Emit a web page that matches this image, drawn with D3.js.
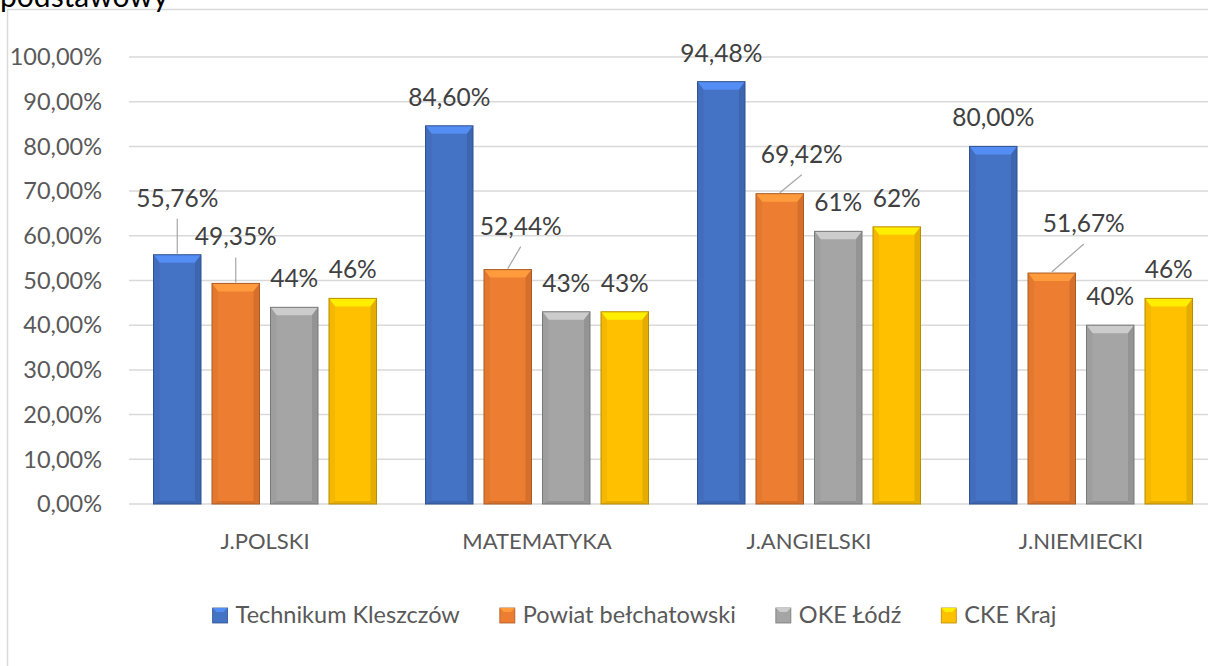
<!DOCTYPE html>
<html>
<head>
<meta charset="utf-8">
<script src="https://cdn.jsdelivr.net/npm/d3@7"></script>
<style>
  html, body { margin: 0; padding: 0; background: #fff; overflow: hidden; }
  svg { display: block; font-family: Lato, "Open Sans", sans-serif; }
</style>
</head>
<body>
<svg id="chart"></svg>
<script>
// data
const categories = ["J.POLSKI", "MATEMATYKA", "J.ANGIELSKI", "J.NIEMIECKI"];
const seriesNames = ["Technikum Kleszczów", "Powiat bełchatowski", "OKE Łódź", "CKE Kraj"];
const technikum = [55.76, 84.60, 94.48, 80.00];
const powiat = [49.35, 52.44, 69.42, 51.67];
const okeLodz = [44, 43, 61, 40];
const ckeKraj = [46, 43, 62, 46];
const valueLabels = [
  ["55,76%", "84,60%", "94,48%", "80,00%"],
  ["49,35%", "52,44%", "69,42%", "51,67%"],
  ["44%", "43%", "61%", "40%"],
  ["46%", "43%", "62%", "46%"]
];
const yTicks = [0, 10, 20, 30, 40, 50, 60, 70, 80, 90, 100];

// layout
const W = 1208, H = 666;
const plot = {left: 129, right: 1217, top: 57, bottom: 504};
const colors = ["#4472C4", "#ED7D31", "#A5A5A5", "#FFC000"];
const fontSize = 23.5;

// labels that were dragged away from the bar in the original (series, category, dx, dy)
const movedLabels = [
  [0, 0, 0, -28],
  [1, 0, 0, -18],
  [1, 1, 13, -15],
  [1, 2, 22, -11],
  [1, 3, 32, -21]
];

const allSeries = [technikum, powiat, okeLodz, ckeKraj];
const data = [];
categories.forEach((c, ci) => {
  allSeries.forEach((s, si) => {
    data.push({cat: c, ci: ci, si: si, value: s[ci], label: valueLabels[si][ci]});
  });
});

const svg = d3.select("#chart").attr("width", W).attr("height", H);

// chart frame
svg.append("rect")
    .attr("x", 7.5).attr("y", 9.5)
    .attr("width", 1400).attr("height", 800)
    .attr("fill", "#fff")
    .attr("stroke", "#D9D9D9")
    .attr("stroke-width", 1.5);

// title, cut off by the top edge as in the original
svg.append("text")
    .attr("x", 0).attr("y", 7)
    .attr("font-size", 30)
    .attr("fill", "#000")
    .text("podstawowy");

const x = d3.scaleBand()
    .domain(categories)
    .range([plot.left, plot.right]);

const xs = d3.scaleBand()
    .domain(d3.range(4))
    .range([0, x.bandwidth()])
    .paddingInner(0.188)
    .paddingOuter(0.419);

const y = d3.scaleLinear()
    .domain([0, 100])
    .range([plot.bottom, plot.top]);

// gridlines
svg.append("g")
  .selectAll("line")
  .data(yTicks)
  .join("line")
    .attr("x1", plot.left).attr("x2", W)
    .attr("y1", d => y(d)).attr("y2", d => y(d))
    .attr("stroke", "#D9D9D9")
    .attr("stroke-width", 1.5);

// y axis labels
const fmt = d3.format(".2f");
svg.append("g")
  .selectAll("text")
  .data(yTicks)
  .join("text")
    .attr("x", 102)
    .attr("y", d => y(d))
    .attr("dy", "0.35em")
    .attr("text-anchor", "end")
    .attr("font-size", fontSize)
    .attr("fill", "#595959")
    .text(d => fmt(d).replace(".", ",") + "%");

// category labels
svg.append("g")
  .selectAll("text")
  .data(categories)
  .join("text")
    .attr("x", d => x(d) + x.bandwidth() / 2)
    .attr("y", 549)
    .attr("text-anchor", "middle")
    .attr("font-size", 22)
    .attr("fill", "#595959")
    .text(d => d);

// bars with bevel look
function barGeom(d) {
  const bx = x(d.cat) + xs(d.si);
  const bw = xs.bandwidth();
  const by = y(d.value);
  const bh = y(0) - by;
  return {bx, bw, by, bh};
}

const bars = svg.append("g")
  .selectAll("g")
  .data(data)
  .join("g");

bars.append("rect")
    .attr("x", d => barGeom(d).bx)
    .attr("y", d => barGeom(d).by)
    .attr("width", xs.bandwidth())
    .attr("height", d => barGeom(d).bh)
    .attr("fill", d => colors[d.si]);

const b = 6;
// top bevel
bars.append("polygon")
    .attr("points", d => {
      const g = barGeom(d);
      return [[g.bx, g.by], [g.bx + g.bw, g.by], [g.bx + g.bw - b, g.by + b + 2], [g.bx + b, g.by + b + 2]].join(" ");
    })
    .attr("fill", d => d3.color(colors[d.si]).brighter(0.6));
// left bevel
bars.append("polygon")
    .attr("points", d => {
      const g = barGeom(d);
      return [[g.bx, g.by], [g.bx + b, g.by + b + 2], [g.bx + b, g.by + g.bh - 3], [g.bx, g.by + g.bh]].join(" ");
    })
    .attr("fill", d => d3.color(colors[d.si]).darker(0.12));
// right bevel
bars.append("polygon")
    .attr("points", d => {
      const g = barGeom(d);
      return [[g.bx + g.bw, g.by], [g.bx + g.bw - b, g.by + b + 2], [g.bx + g.bw - b, g.by + g.bh - 3], [g.bx + g.bw, g.by + g.bh]].join(" ");
    })
    .attr("fill", d => d3.color(colors[d.si]).darker(0.3));
// bottom bevel
bars.append("polygon")
    .attr("points", d => {
      const g = barGeom(d);
      return [[g.bx, g.by + g.bh], [g.bx + b, g.by + g.bh - 3], [g.bx + g.bw - b, g.by + g.bh - 3], [g.bx + g.bw, g.by + g.bh]].join(" ");
    })
    .attr("fill", d => d3.color(colors[d.si]).darker(0.3));
// outline
bars.append("rect")
    .attr("x", d => barGeom(d).bx)
    .attr("y", d => barGeom(d).by)
    .attr("width", xs.bandwidth())
    .attr("height", d => barGeom(d).bh)
    .attr("fill", "none")
    .attr("stroke", d => d3.color(colors[d.si]).darker(0.9))
    .attr("stroke-width", 1);

// value labels
function labelPos(d) {
  const g = barGeom(d);
  const m = movedLabels.find(o => o[0] === d.si && o[1] === d.ci);
  const cx = g.bx + g.bw / 2;
  const base = g.by - 20;
  return m ? {x: cx + m[2], y: base + m[3], moved: true, cx: cx, top: g.by}
           : {x: cx, y: base, moved: false};
}

const labels = svg.append("g");
labels.selectAll("line")
  .data(data.filter(d => labelPos(d).moved))
  .join("line")
    .attr("x1", d => labelPos(d).x)
    .attr("y1", d => labelPos(d).y + 12)
    .attr("x2", d => labelPos(d).cx)
    .attr("y2", d => labelPos(d).top - 1)
    .attr("stroke", "#A6A6A6")
    .attr("stroke-width", 1.2);

labels.selectAll("text")
  .data(data)
  .join("text")
    .attr("x", d => labelPos(d).x)
    .attr("y", d => labelPos(d).y)
    .attr("text-anchor", "middle")
    .attr("font-size", 24.5)
    .attr("fill", "#404040")
    .text(d => d.label);

// legend
const legend = svg.append("g");
const items = legend.selectAll("g")
  .data(seriesNames)
  .join("g");
items.append("rect")
    .attr("y", 608)
    .attr("width", 15).attr("height", 15)
    .attr("fill", (d, i) => colors[i])
    .attr("stroke", (d, i) => d3.color(colors[i]).darker(0.9))
    .attr("stroke-width", 0.8);
items.append("polygon")
    .attr("points", "0,608 15,608 11,612 4,612")
    .attr("fill", (d, i) => d3.color(colors[i]).brighter(0.6));
items.append("text")
    .attr("x", 23)
    .attr("y", 623)
    .attr("font-size", 23.5)
    .attr("fill", "#595959")
    .text(d => d);

let pos = 0;
const offsets = [];
items.each(function() {
  offsets.push(pos);
  const tw = d3.select(this).select("text").node().getComputedTextLength();
  pos += 23 + tw + 40;
});
const total = pos - 40;
const startX = 634.5 - total / 2;
items.attr("transform", (d, i) => "translate(" + (startX + offsets[i]) + ",0)");
</script>
</body>
</html>
